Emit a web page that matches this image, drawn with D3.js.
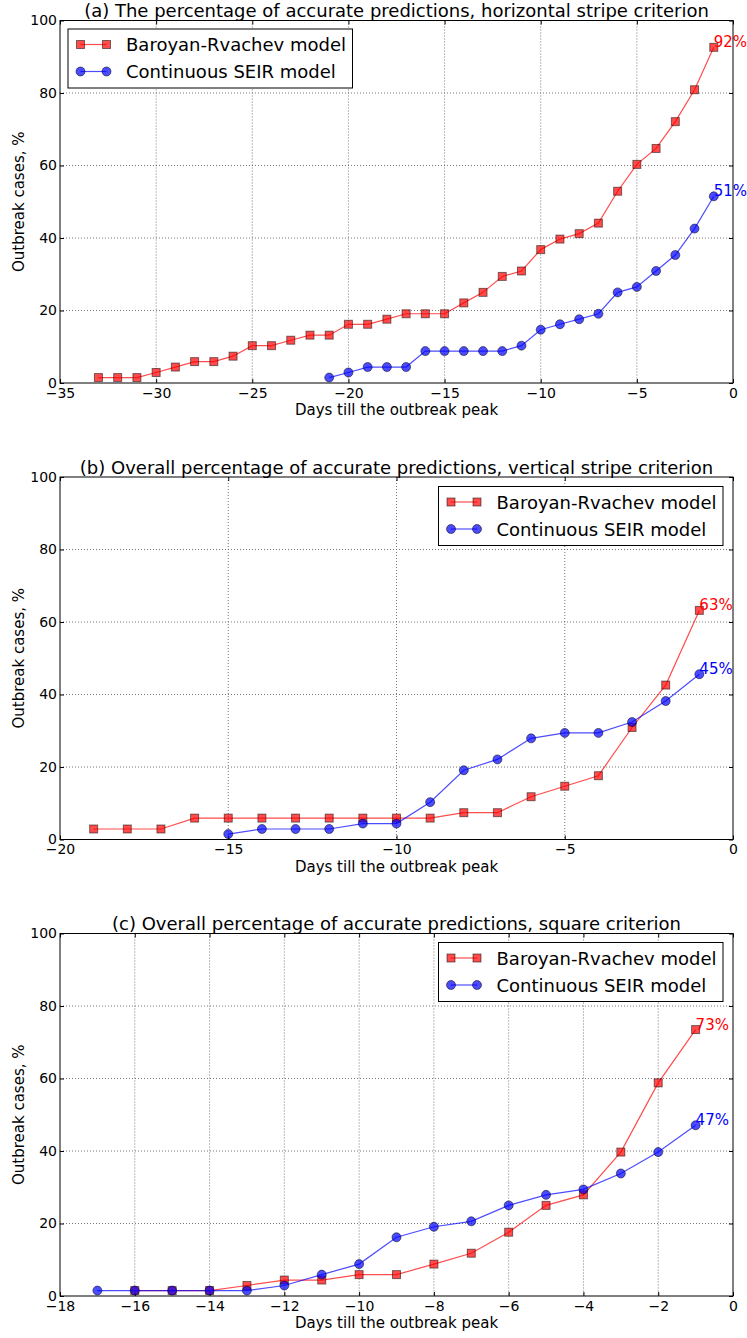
<!DOCTYPE html>
<html>
<head>
<meta charset="utf-8">
<script src="https://cdn.jsdelivr.net/npm/d3@7"></script>
<style>
  body { margin: 0; background: #fff; }
  svg { display: block; }
  text { font-family: "DejaVu Sans", sans-serif; }
</style>
</head>
<body>
<svg id="chart" width="747" height="1338"></svg>
<script>
// ---- Data: percentage of outbreaks predicted accurately, by days before the peak ----
const seriesNames = ["Baroyan-Rvachev model", "Continuous SEIR model"];

const titles = [
  "(a) The percentage of accurate predictions, horizontal stripe criterion",
  "(b) Overall percentage of accurate predictions, vertical stripe criterion",
  "(c) Overall percentage of accurate predictions, square criterion"
];

// (a) horizontal stripe criterion
const daysA_BR = d3.range(-33, 0);
const valuesA_BR = [1.5, 1.5, 1.5, 2.9, 4.4, 5.9, 5.9, 7.4, 10.3, 10.3, 11.8, 13.2, 13.2, 16.2, 16.2,
  17.6, 19.1, 19.1, 19.1, 22.1, 25.0, 29.4, 30.9, 36.8, 39.7, 41.2, 44.1, 52.9, 60.3, 64.7, 72.1, 80.9, 92.6];
const daysA_SEIR = d3.range(-21, 0);
const valuesA_SEIR = [1.5, 2.9, 4.4, 4.4, 4.4, 8.8, 8.8, 8.8, 8.8, 8.8, 10.3, 14.7, 16.2, 17.6, 19.1,
  25.0, 26.5, 30.9, 35.3, 42.6, 51.5];

// (b) vertical stripe criterion
const daysB_BR = d3.range(-19, 0);
const valuesB_BR = [2.9, 2.9, 2.9, 5.9, 5.9, 5.9, 5.9, 5.9, 5.9, 5.9, 5.9, 7.4, 7.4, 11.8, 14.7, 17.6,
  30.9, 42.6, 63.2];
const daysB_SEIR = d3.range(-15, 0);
const valuesB_SEIR = [1.5, 2.9, 2.9, 2.9, 4.4, 4.4, 10.3, 19.1, 22.1, 27.9, 29.4, 29.4, 32.4, 38.2, 45.6];

// (c) square criterion
const daysC_BR = d3.range(-16, 0);
const valuesC_BR = [1.5, 1.5, 1.5, 2.9, 4.4, 4.4, 5.9, 5.9, 8.8, 11.8, 17.6, 25.0, 27.9, 39.7, 58.8, 73.5];
const daysC_SEIR = d3.range(-17, 0);
const valuesC_SEIR = [1.5, 1.5, 1.5, 1.5, 1.5, 2.9, 5.9, 8.8, 16.2, 19.1, 20.6, 25.0, 27.9, 29.4, 33.8,
  39.7, 47.1];

// Axis ticks
const xTicksA = [-35, -30, -25, -20, -15, -10, -5, 0];
const xTicksB = [-20, -15, -10, -5, 0];
const xTicksC = [-18, -16, -14, -12, -10, -8, -6, -4, -2, 0];
const yTicks = [0, 20, 40, 60, 80, 100];

const xLabel = "Days till the outbreak peak";
const yLabel = "Outbreak cases, %";

// ---- Layout & styling ----
const svg = d3.select("#chart");
const plotLeft = 60, plotRight = 733, plotHeight = 362.5;
const RED = "#ff0000", BLUE = "#0000ff";

const panels = [
  { title: titles[0], top: 20.5, xTicks: xTicksA,
    br: [daysA_BR, valuesA_BR], seir: [daysA_SEIR, valuesA_SEIR], legend: { x: 68, y: 29 } },
  { title: titles[1], top: 477, xTicks: xTicksB,
    br: [daysB_BR, valuesB_BR], seir: [daysB_SEIR, valuesB_SEIR], legend: { x: 438.5, y: 486.5 } },
  { title: titles[2], top: 933.5, xTicks: xTicksC,
    br: [daysC_BR, valuesC_BR], seir: [daysC_SEIR, valuesC_SEIR], legend: { x: 438.5, y: 942.5 } }
];

function squareMarker(sel, size) {
  return sel.append("rect")
    .attr("width", size).attr("height", size)
    .attr("fill", RED).attr("fill-opacity", 0.7)
    .attr("stroke", "#000").attr("stroke-opacity", 0.5).attr("stroke-width", 1);
}

function circleMarker(sel, r) {
  return sel.append("circle")
    .attr("r", r)
    .attr("fill", BLUE).attr("fill-opacity", 0.7)
    .attr("stroke", "#000").attr("stroke-opacity", 0.5).attr("stroke-width", 1);
}

function drawPanel(p) {
  const top = p.top, bottom = top + plotHeight;
  const x = d3.scaleLinear().domain([p.xTicks[0], 0]).range([plotLeft, plotRight]);
  const y = d3.scaleLinear().domain([0, 100]).range([bottom, top]);
  const g = svg.append("g");

  // dotted grid at the major ticks
  const grid = g.append("g")
    .attr("stroke", "#555").attr("stroke-width", 0.8).attr("stroke-dasharray", "1,2");
  grid.selectAll("line.v").data(p.xTicks.slice(1, -1)).join("line")
    .attr("x1", d => x(d)).attr("x2", d => x(d)).attr("y1", top).attr("y2", bottom);
  grid.selectAll("line.h").data(yTicks.slice(1, -1)).join("line")
    .attr("x1", plotLeft).attr("x2", plotRight).attr("y1", d => y(d)).attr("y2", d => y(d));

  // axes with inward ticks on all four sides
  const bottomAxis = g.append("g").attr("transform", `translate(0,${bottom})`)
    .call(d3.axisBottom(x).tickValues(p.xTicks).tickSize(-4).tickPadding(5));
  const leftAxis = g.append("g").attr("transform", `translate(${plotLeft},0)`)
    .call(d3.axisLeft(y).tickValues(yTicks).tickSize(-4).tickPadding(3));
  const topAxis = g.append("g").attr("transform", `translate(0,${top})`)
    .call(d3.axisTop(x).tickValues(p.xTicks).tickSize(-4).tickFormat(""));
  const rightAxis = g.append("g").attr("transform", `translate(${plotRight},0)`)
    .call(d3.axisRight(y).tickValues(yTicks).tickSize(-4).tickFormat(""));
  [bottomAxis, leftAxis, topAxis, rightAxis].forEach(a => {
    a.select(".domain").remove();
    a.selectAll("text").attr("font-family", "DejaVu Sans").attr("font-size", 14).attr("fill", "#000");
  });

  // series lines and markers (SEIR drawn on top)
  const line = d3.line().x(d => x(d[0])).y(d => y(d[1]));
  const brPts = d3.zip(p.br[0], p.br[1]);
  const seirPts = d3.zip(p.seir[0], p.seir[1]);

  g.append("path").datum(brPts).attr("d", line)
    .attr("fill", "none").attr("stroke", RED).attr("stroke-opacity", 0.7).attr("stroke-width", 1.2);
  const sq = 8;
  g.append("g").selectAll("rect").data(brPts).join(enter => {
    const r = squareMarker(enter.append("g"), sq);
    return r;
  }).attr("x", d => x(d[0]) - sq / 2).attr("y", d => y(d[1]) - sq / 2);

  g.append("path").datum(seirPts).attr("d", line)
    .attr("fill", "none").attr("stroke", BLUE).attr("stroke-opacity", 0.7).attr("stroke-width", 1.2);
  g.append("g").selectAll("circle").data(seirPts).join(enter => circleMarker(enter.append("g"), 4.5))
    .attr("cx", d => x(d[0])).attr("cy", d => y(d[1]));

  // end-point percentage labels
  const lastBR = brPts[brPts.length - 1], lastSEIR = seirPts[seirPts.length - 1];
  g.append("text").attr("x", x(lastBR[0])).attr("y", y(lastBR[1]))
    .attr("font-size", 15).attr("fill", RED).text(Math.floor(lastBR[1]) + "%");
  g.append("text").attr("x", x(lastSEIR[0])).attr("y", y(lastSEIR[1]))
    .attr("font-size", 15).attr("fill", BLUE).text(Math.floor(lastSEIR[1]) + "%");

  // frame
  g.append("rect").attr("x", plotLeft).attr("y", top)
    .attr("width", plotRight - plotLeft).attr("height", plotHeight)
    .attr("fill", "none").attr("stroke", "#000").attr("stroke-width", 1);

  // legend
  const lg = g.append("g").attr("transform", `translate(${p.legend.x},${p.legend.y})`);
  lg.append("rect").attr("width", 284.5).attr("height", 59)
    .attr("fill", "#fff").attr("stroke", "#000").attr("stroke-width", 1);
  const rows = [15.5, 42.5];
  const m1 = 12.5, m2 = 38.5;
  // Baroyan-Rvachev row
  lg.append("line").attr("x1", m1).attr("x2", m2).attr("y1", rows[0]).attr("y2", rows[0])
    .attr("stroke", RED).attr("stroke-opacity", 0.7).attr("stroke-width", 1.2);
  [m1, m2].forEach(mx => squareMarker(lg, sq).attr("x", mx - sq / 2).attr("y", rows[0] - sq / 2));
  // SEIR row
  lg.append("line").attr("x1", m1).attr("x2", m2).attr("y1", rows[1]).attr("y2", rows[1])
    .attr("stroke", BLUE).attr("stroke-opacity", 0.7).attr("stroke-width", 1.2);
  [m1, m2].forEach(mx => circleMarker(lg, 4.5).attr("cx", mx).attr("cy", rows[1]));
  seriesNames.forEach((name, i) => {
    lg.append("text").attr("x", 58).attr("y", rows[i] + 6.5)
      .attr("font-size", 18).attr("fill", "#000").text(name);
  });

  // title and axis labels
  const cx = (plotLeft + plotRight) / 2;
  g.append("text").attr("x", cx).attr("y", top - 3.5).attr("text-anchor", "middle")
    .attr("font-size", 18).attr("fill", "#000").text(p.title);
  g.append("text").attr("x", cx).attr("y", bottom + 32).attr("text-anchor", "middle")
    .attr("font-size", 15).attr("fill", "#000").text(xLabel);
  g.append("text").attr("transform", `translate(24,${(top + bottom) / 2}) rotate(-90)`)
    .attr("text-anchor", "middle").attr("font-size", 15).attr("fill", "#000").text(yLabel);
}

panels.forEach(drawPanel);
</script>
</body>
</html>
